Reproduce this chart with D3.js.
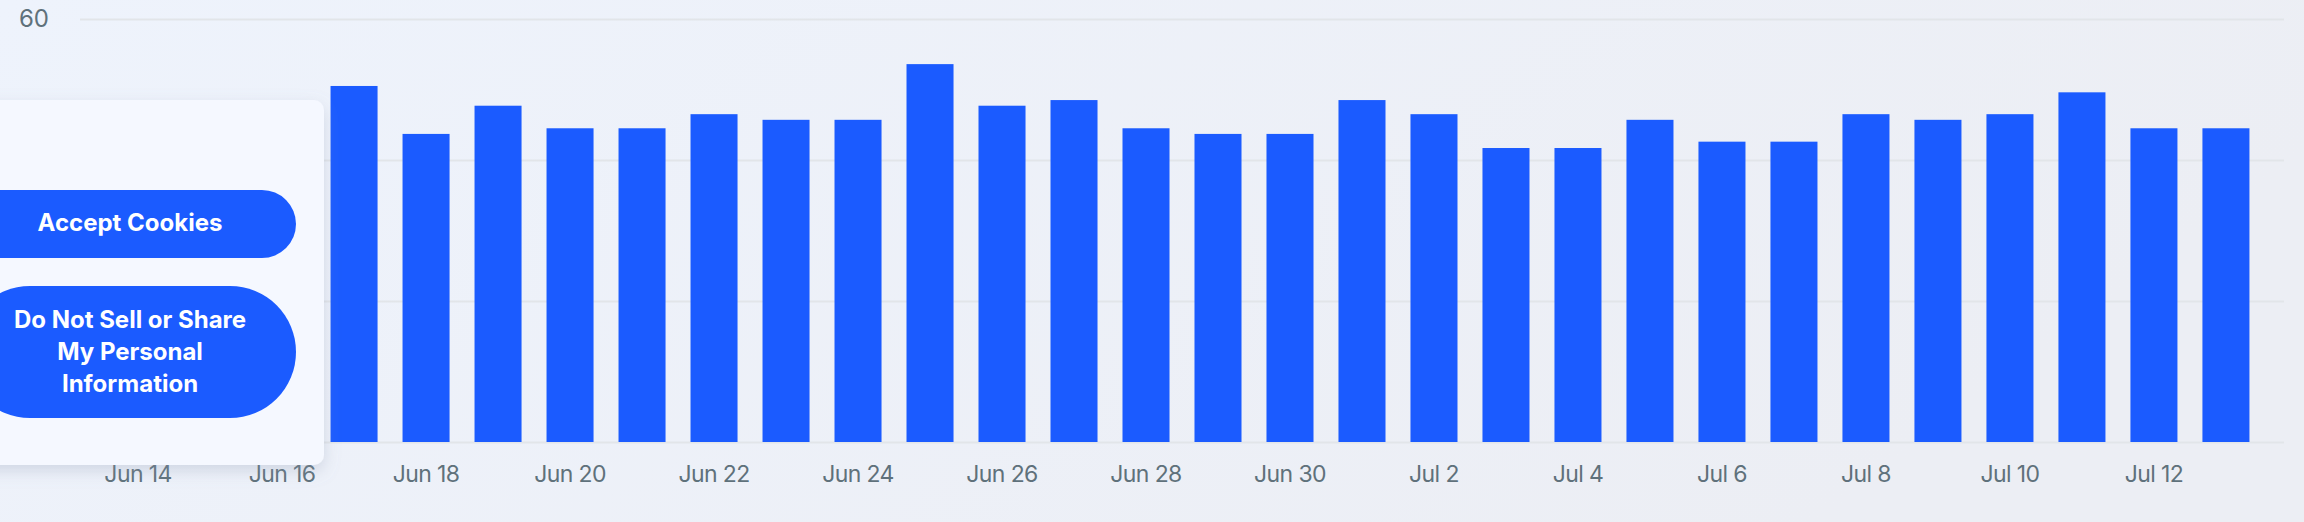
<!DOCTYPE html>
<html>
<head>
<meta charset="utf-8">
<script src="https://cdn.jsdelivr.net/npm/d3@7"></script>
<style>
  html, body { margin: 0; padding: 0; overflow: hidden; }
  body { width: 2304px; height: 522px; }
</style>
</head>
<body>
<div id="chart"></div>
<script>
// daily values, Jun 14 .. Jul 13 (first three sit under the cookie panel)
var days = ["Jun 14","Jun 15","Jun 16","Jun 17","Jun 18","Jun 19","Jun 20","Jun 21","Jun 22","Jun 23",
            "Jun 24","Jun 25","Jun 26","Jun 27","Jun 28","Jun 29","Jun 30","Jul 1","Jul 2","Jul 3",
            "Jul 4","Jul 5","Jul 6","Jul 7","Jul 8","Jul 9","Jul 10","Jul 11","Jul 12","Jul 13"];
var values = [45.7, 44.5, 46.5, 50.5, 43.7, 47.7, 44.5, 44.5, 46.5, 45.7,
              45.7, 53.6, 47.7, 48.5, 44.5, 43.7, 43.7, 48.5, 46.5, 41.7,
              41.7, 45.7, 42.6, 42.6, 46.5, 45.7, 46.5, 49.6, 44.5, 44.5];
var xTicks = ["Jun 14","Jun 16","Jun 18","Jun 20","Jun 22","Jun 24","Jun 26","Jun 28","Jun 30",
              "Jul 2","Jul 4","Jul 6","Jul 8","Jul 10","Jul 12"];
var yTicks = [0, 20, 40, 60];

var W = 2304, H = 522;
var margin = {top: 19, right: 20, bottom: 80, left: 80};

var svg = d3.select("#chart").append("svg")
    .attr("width", W).attr("height", H);

var defs = svg.append("defs");
var bg = defs.append("linearGradient").attr("id", "bg")
    .attr("x1", "0").attr("y1", "0").attr("x2", "1").attr("y2", "0.3");
bg.append("stop").attr("offset", "0").attr("stop-color", "#eef3fc");
bg.append("stop").attr("offset", "1").attr("stop-color", "#eceef4");

var shadow = defs.append("filter").attr("id", "shadow")
    .attr("x", "-20%").attr("y", "-20%").attr("width", "140%").attr("height", "150%");
shadow.append("feDropShadow").attr("dx", 0).attr("dy", 6).attr("stdDeviation", 8)
    .attr("flood-color", "#8a98b0").attr("flood-opacity", 0.3);

svg.append("rect").attr("width", W).attr("height", H).attr("fill", "url(#bg)");

var x = d3.scaleBand()
    .domain(days)
    .range([margin.left, W - margin.right])
    .paddingInner(0.347)
    .paddingOuter(0.48);

var y = d3.scaleLinear()
    .domain([0, 60])
    .range([H - margin.bottom, margin.top]);

// gridlines + y labels (only the top one shows, the rest are under the panel)
var yAxis = d3.axisLeft(y)
    .tickValues(yTicks)
    .tickSize(-(W - margin.right - margin.left))
    .tickPadding(31)
    .tickFormat(function(d) { return d === 60 ? d : ""; });

var gy = svg.append("g")
    .attr("transform", "translate(" + margin.left + ",0)")
    .call(yAxis);
gy.select(".domain").remove();
gy.selectAll(".tick line").attr("stroke", "#e2e5e9").attr("stroke-width", 2);
gy.selectAll(".tick text")
    .attr("fill", "#5f717b")
    .style("font-family", "Inter, sans-serif")
    .style("font-size", "24px");

// bars
svg.append("g").selectAll("rect")
    .data(days)
    .enter().append("rect")
    .attr("x", function(d) { return x(d); })
    .attr("y", function(d, i) { return y(values[i]); })
    .attr("width", x.bandwidth())
    .attr("height", function(d, i) { return y(0) - y(values[i]); })
    .attr("fill", "#1b5bff");

// x labels
var xAxis = d3.axisBottom(x)
    .tickValues(xTicks)
    .tickSize(0);

var gx = svg.append("g")
    .attr("transform", "translate(0," + (H - margin.bottom) + ")")
    .call(xAxis);
gx.select(".domain").remove();
gx.selectAll(".tick text")
    .attr("y", 40).attr("dy", 0)
    .attr("fill", "#5f717b")
    .style("font-family", "Inter, sans-serif")
    .style("font-size", "23px")
    .style("letter-spacing", "-0.6px");

// cookie consent panel laid over the left part of the chart
var panel = svg.append("g");
panel.append("rect")
    .attr("x", -60).attr("y", 100)
    .attr("width", 384).attr("height", 365)
    .attr("rx", 10)
    .attr("fill", "#f5f8ff")
    .attr("filter", "url(#shadow)");

panel.append("rect")
    .attr("x", -36).attr("y", 190)
    .attr("width", 332).attr("height", 68)
    .attr("rx", 34)
    .attr("fill", "#1b5bff");
panel.append("text")
    .attr("x", 130).attr("y", 223)
    .attr("dy", "0.35em")
    .attr("text-anchor", "middle")
    .attr("fill", "#fff")
    .style("font-family", "Inter, sans-serif")
    .style("font-weight", 700)
    .style("font-size", "24px")
    .text("Accept Cookies");

panel.append("rect")
    .attr("x", -36).attr("y", 286)
    .attr("width", 332).attr("height", 132)
    .attr("rx", 66)
    .attr("fill", "#1b5bff");
var lines = ["Do Not Sell or Share", "My Personal", "Information"];
panel.append("text")
    .attr("text-anchor", "middle")
    .attr("fill", "#fff")
    .style("font-family", "Inter, sans-serif")
    .style("font-weight", 700)
    .style("font-size", "24px")
    .selectAll("tspan")
    .data(lines)
    .enter().append("tspan")
    .attr("x", 130)
    .attr("y", function(d, i) { return 320 + i * 32; })
    .attr("dy", "0.35em")
    .text(function(d) { return d; });
</script>
</body>
</html>
